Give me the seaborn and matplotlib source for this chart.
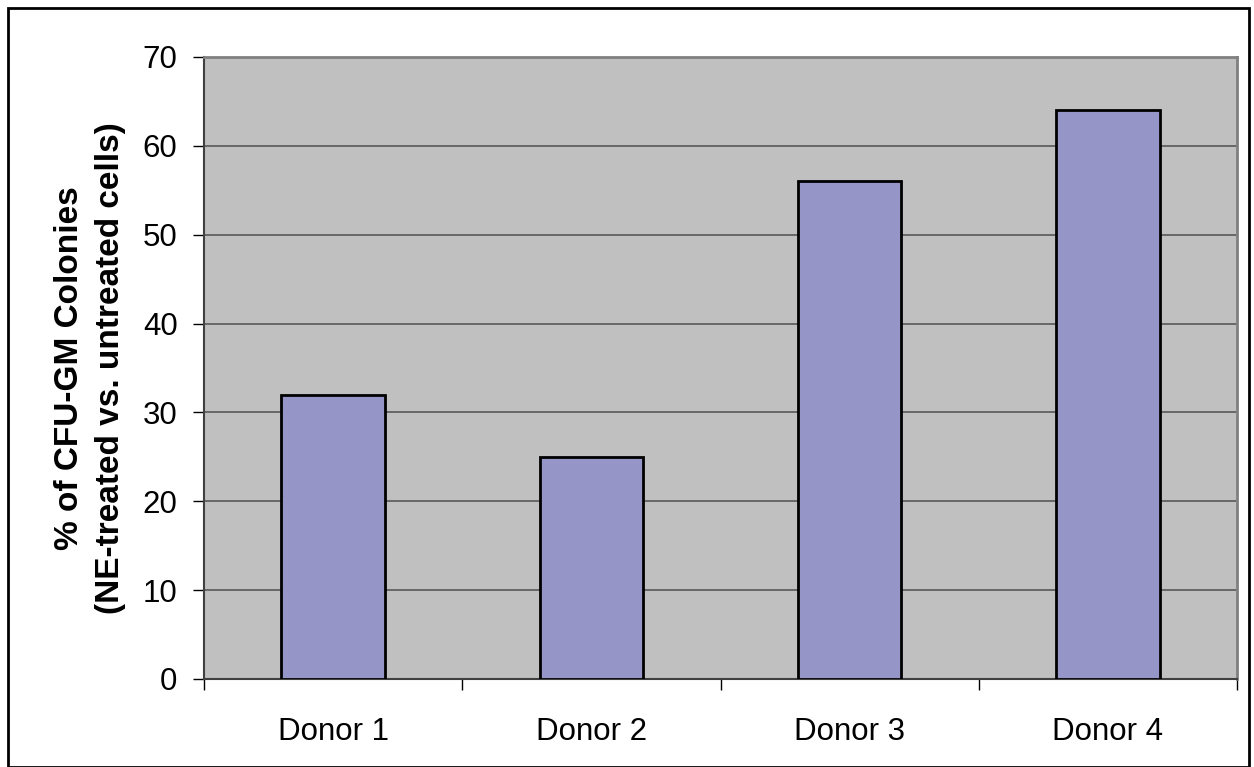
import matplotlib
matplotlib.use("Agg")
import matplotlib.pyplot as plt
import seaborn as sns
import pandas as pd
from matplotlib.patches import Rectangle

donors = ["Donor 1", "Donor 2", "Donor 3", "Donor 4"]
values = [32, 25, 56, 64]
yticks = [0, 10, 20, 30, 40, 50, 60, 70]

sns.set_theme(style="white")
plt.rcParams['font.family'] = ['Liberation Sans', 'DejaVu Sans']
plt.rcParams['text.color'] = 'black'
plt.rcParams['axes.labelcolor'] = 'black'
plt.rcParams['xtick.color'] = 'black'
plt.rcParams['ytick.color'] = 'black'

df = pd.DataFrame({"donor": donors, "value": values})

fig = plt.figure(figsize=(12.54, 7.67), dpi=100)
ax = fig.add_axes([204/1254, 1-679/767, (1237-204)/1254, (679-57)/767])
ax.set_facecolor("#C0C0C0")

sns.barplot(data=df, x="donor", y="value", ax=ax, color="#9595C8",
            saturation=1, width=0.4, edgecolor="black", linewidth=2, zorder=3)

ax.set_ylim(0, 70)
ax.set_xlim(-0.5, 3.5)
ax.set_yticks(yticks)
ax.set_yticklabels([str(t) for t in yticks], fontsize=22.5)
ax.yaxis.grid(True, color="#606060", linewidth=1.3, zorder=0)
ax.set_axisbelow(True)

# x ticks at category boundaries
ax.set_xticks([-0.5, 0.5, 1.5, 2.5, 3.5], minor=False)
ax.set_xticklabels([])
ax.set_xticks([0, 1, 2, 3], minor=True)
ax.set_xticklabels(donors, minor=True, fontsize=22.5)
ax.tick_params(axis="x", which="major", direction="out", length=8, width=1, color="black", bottom=True)
ax.tick_params(axis="x", which="minor", length=0, pad=27)
ax.tick_params(axis="y", direction="out", length=8, width=1, color="black", left=True, pad=11)

ax.set_xlabel("")
ax.set_ylabel("% of CFU-GM Colonies\n(NE-treated vs. untreated cells)",
              fontsize=24, fontweight="bold", labelpad=12, linespacing=1.4)

for side in ["top", "right"]:
    ax.spines[side].set_color("#808080")
    ax.spines[side].set_linewidth(2)
for side in ["left", "bottom"]:
    ax.spines[side].set_color("#404040")
    ax.spines[side].set_linewidth(1.5)

fig.patches.append(Rectangle((8/1254, 0), (1249-8)/1254, 1-8/767, transform=fig.transFigure,
                             fill=False, edgecolor="black", linewidth=2))

fig.savefig("out.png", dpi=100)
